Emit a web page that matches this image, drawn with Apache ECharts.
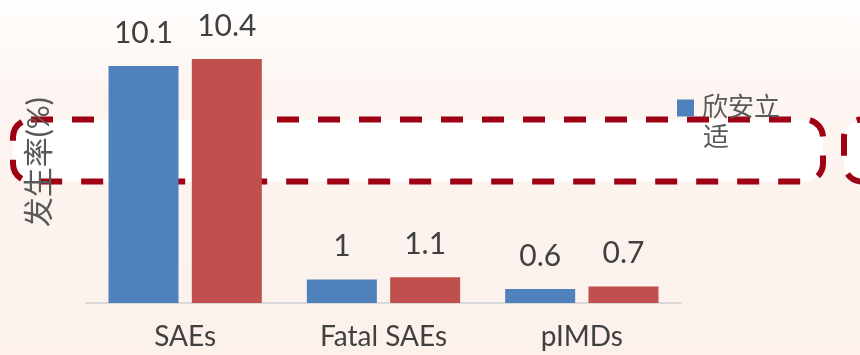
<!DOCTYPE html>
<html>
<head>
<meta charset="utf-8">
<script src="https://cdn.jsdelivr.net/npm/echarts@6/dist/echarts.min.js"></script>
<style>
  html, body { margin: 0; padding: 0; }
  #chart { width: 860px; height: 355px; }
</style>
</head>
<body>
<div id="chart"></div>
<script>
// Incidence rates (%) per adverse event type
const categories = ['SAEs', 'Fatal SAEs', 'pIMDs'];
const vaccineValues = [10.1, 1, 0.6];
const controlValues = [10.4, 1.1, 0.7];
const seriesNames = ['欣安立适', '对照组'];
const yAxisTitle = '发生率(%)';

const FONT = 'Lato, "Noto Sans CJK SC", sans-serif';
const TEXT = '#404040';
const LEGEND_TEXT = '#595959';

const chart = echarts.init(document.getElementById('chart'));

const labelStyle = {
  show: true,
  position: 'top',
  distance: 18,
  fontSize: 30,
  fontFamily: FONT,
  color: TEXT
};

// legend entry wraps after three characters; the remainder sits on a second line
const legendFirstLine = seriesNames[0].slice(0, 3);
const legendSecondLine = seriesNames[0].slice(3);

chart.setOption({
  backgroundColor: {
    type: 'linear', x: 0, y: 0, x2: 0, y2: 1,
    colorStops: [
      { offset: 0, color: '#fffefd' },
      { offset: 0.25, color: '#fdf5f1' },
      { offset: 1, color: '#fcf1eb' }
    ]
  },
  animation: false,
  graphic: [
    {
      type: 'rect', z: 0,
      shape: { x: 13, y: 119.5, width: 810, height: 62, r: 18 },
      style: { fill: '#ffffff', stroke: '#9e0014', lineWidth: 6, lineDash: [22, 19] }
    },
    {
      type: 'rect', z: 0,
      shape: { x: 844, y: 119.5, width: 100, height: 62, r: 18 },
      style: { fill: '#ffffff', stroke: '#9e0014', lineWidth: 6, lineDash: [22, 19] }
    },
    {
      type: 'text', z: 5,
      left: 703, top: 125,
      style: { text: legendSecondLine, fontSize: 26, fontFamily: FONT, fill: LEGEND_TEXT }
    }
  ],
  legend: {
    data: [seriesNames[0]],
    left: 672,
    top: 90,
    orient: 'vertical',
    icon: 'rect',
    itemWidth: 17,
    itemHeight: 17,
    formatter: () => legendFirstLine,
    textStyle: { fontSize: 26, fontFamily: FONT, color: LEGEND_TEXT, padding: [0, 0, 0, 3] }
  },
  grid: { left: 86, right: 179, top: 21.5, bottom: 52, containLabel: false },
  xAxis: {
    type: 'category',
    data: categories,
    axisLine: { show: true, lineStyle: { color: '#d9d9d9', width: 2 } },
    axisTick: { show: false },
    axisLabel: { fontSize: 28, fontFamily: FONT, color: TEXT, margin: 20 }
  },
  yAxis: {
    type: 'value',
    min: 0,
    max: 12,
    name: yAxisTitle,
    nameLocation: 'middle',
    nameRotate: 90,
    nameGap: 32,
    nameTextStyle: { fontSize: 30, fontFamily: FONT, color: LEGEND_TEXT },
    axisLine: { show: false },
    axisTick: { show: false },
    axisLabel: { show: false },
    splitLine: { show: false }
  },
  series: [
    {
      name: seriesNames[0],
      type: 'bar',
      data: vaccineValues,
      barWidth: 70,
      barGap: '19%',
      itemStyle: { color: '#4f81bd' },
      label: labelStyle
    },
    {
      name: seriesNames[1],
      type: 'bar',
      data: controlValues,
      barWidth: 70,
      itemStyle: { color: '#c0504d' },
      label: labelStyle
    }
  ]
});
</script>
</body>
</html>
